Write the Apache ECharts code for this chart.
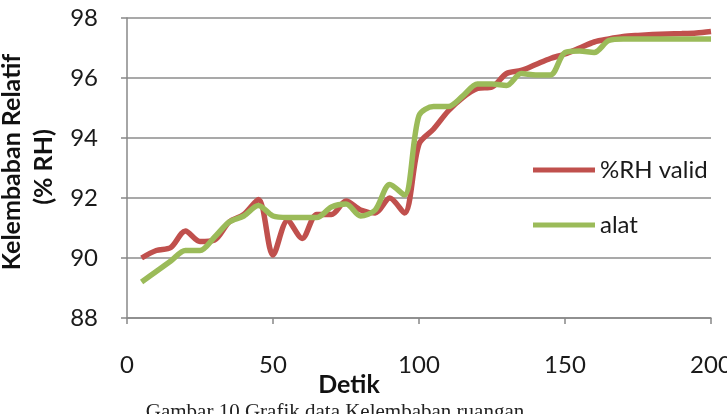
<!DOCTYPE html>
<html>
<head>
<meta charset="utf-8">
<script src="https://cdn.jsdelivr.net/npm/echarts@6/dist/echarts.min.js"></script>
<style>
    html, body { margin: 0; padding: 0; background: #fff; }
    #myChartArea { width: 727px; height: 414px; }
</style>
</head>
<body>
<div id="myChartArea"></div>
<script>
// data (tiap 5 detik)
var detik = [5, 10, 15, 20, 25, 30, 35, 40, 45, 50, 55, 60, 65, 70, 75, 80, 85, 90, 95, 100,
    105, 110, 115, 120, 125, 130, 135, 140, 145, 150, 155, 160, 165, 170, 175, 180, 185, 190, 195, 200];
var rhValid = [90.0, 90.25, 90.35, 90.9, 90.55, 90.6, 91.2, 91.45, 91.95, 90.1,
    91.25, 90.65, 91.45, 91.45, 91.9, 91.6, 91.5, 92.0, 91.5, 93.8,
    94.3, 94.9, 95.35, 95.65, 95.7, 96.15, 96.25, 96.45, 96.65, 96.8,
    97.0, 97.2, 97.3, 97.38, 97.42, 97.45, 97.47, 97.48, 97.5, 97.55];
var alat = [89.2, 89.55, 89.9, 90.25, 90.25, 90.7, 91.2, 91.4, 91.75, 91.4,
    91.35, 91.35, 91.35, 91.7, 91.8, 91.4, 91.6, 92.45, 92.1, 94.75,
    95.05, 95.05, 95.4, 95.8, 95.8, 95.75, 96.15, 96.1, 96.1, 96.85,
    96.9, 96.85, 97.25, 97.3, 97.3, 97.3, 97.3, 97.3, 97.3, 97.3];
var seriesNames = ['%RH valid', 'alat'];

function pasangan(ys) {
    return detik.map(function (x, i) { return [x, ys[i]]; });
}

var myChart = echarts.init(document.getElementById("myChartArea"));

var fontUtama = 'Lato, "Open Sans", sans-serif';

var option = {
    backgroundColor: '#ffffff',
    animation: false,
    grid: {
        left: 127,
        right: 16,
        top: 18,
        bottom: 96,
        containLabel: false,
        outerBoundsMode: 'none'
    },
    legend: {
        orient: 'vertical',
        left: 533,
        top: 158,
        padding: 0,
        icon: 'rect',
        itemWidth: 62,
        itemHeight: 5,
        itemGap: 31,
        textStyle: { fontFamily: fontUtama, fontSize: 24, color: '#1a1a1a' },
        data: seriesNames
    },
    xAxis: {
        type: 'value',
        min: 0,
        max: 200,
        interval: 50,
        axisLine: { show: true, lineStyle: { color: '#888', width: 1.5 } },
        axisTick: { show: true, length: 6, lineStyle: { color: '#888', width: 1.5 } },
        axisLabel: {
            margin: 35, fontFamily: fontUtama, fontSize: 24, color: '#1a1a1a',
            alignMinLabel: 'center', alignMaxLabel: 'center', hideOverlap: false
        },
        splitLine: { show: false }
    },
    yAxis: {
        type: 'value',
        min: 88,
        max: 98,
        interval: 2,
        axisLine: { show: true, lineStyle: { color: '#888', width: 1.5 } },
        axisTick: { show: true, inside: false, length: 6, lineStyle: { color: '#888', width: 1.5 } },
        axisLabel: { margin: 29, fontFamily: fontUtama, fontSize: 24, color: '#1a1a1a' },
        splitLine: { show: true, lineStyle: { color: '#8c8c8c', width: 1.5 } }
    },
    graphic: [
        {
            type: 'text',
            x: 12, y: 162,
            rotation: Math.PI / 2,
            style: {
                text: 'Kelembaban Relatif',
                font: 'bold 25px ' + fontUtama,
                fill: '#111',
                textAlign: 'center',
                textVerticalAlign: 'middle'
            }
        },
        {
            type: 'text',
            x: 44, y: 167,
            rotation: Math.PI / 2,
            style: {
                text: '(% RH)',
                font: 'bold 25px ' + fontUtama,
                fill: '#111',
                textAlign: 'center',
                textVerticalAlign: 'middle'
            }
        },
        {
            type: 'text',
            x: 349, y: 385,
            style: {
                text: 'Detik',
                font: 'bold 25px ' + fontUtama,
                fill: '#111',
                textAlign: 'center',
                textVerticalAlign: 'middle'
            }
        },
        {
            type: 'text',
            x: 335, y: 402,
            style: {
                text: 'Gambar 10 Grafik data Kelembaban ruangan',
                font: '21px "Liberation Serif", serif',
                fill: '#222',
                textAlign: 'center',
                textVerticalAlign: 'top'
            }
        }
    ],
    series: [
        {
            name: seriesNames[0],
            type: 'line',
            smooth: 0.3,
            showSymbol: false,
            symbol: 'none',
            color: '#c0504d',
            lineStyle: { width: 5.5, color: '#c0504d' },
            data: pasangan(rhValid)
        },
        {
            name: seriesNames[1],
            type: 'line',
            smooth: 0.3,
            showSymbol: false,
            symbol: 'none',
            color: '#9bbb59',
            lineStyle: { width: 5.5, color: '#9bbb59' },
            data: pasangan(alat)
        }
    ]
};

myChart.setOption(option);
</script>
</body>
</html>
